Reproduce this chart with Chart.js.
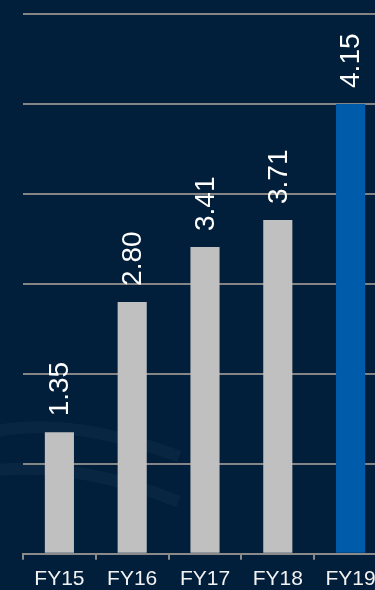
<!DOCTYPE html>
<html>
<head>
<meta charset="utf-8">
<script src="https://cdn.jsdelivr.net/npm/chart.js@4"></script>
<style>
  html, body { margin: 0; padding: 0; background: #011e3a; overflow: hidden; }
  #wrap { width: 390px; height: 599px; }
</style>
</head>
<body>
<div id="wrap"><canvas id="revChart"></canvas></div>
<script>
const years = ['FY15', 'FY16', 'FY17', 'FY18', 'FY19'];
// bar heights as drawn (FY19 bar is drawn taller than its label)
const barHeights = [1.35, 2.80, 3.41, 3.71, 5.0];
const valueLabels = ['1.35', '2.80', '3.41', '3.71', '4.15'];
const barColors = ['#c0c0c0', '#c0c0c0', '#c0c0c0', '#c0c0c0', '#005bab'];

const ctx = document.getElementById('revChart').getContext('2d');

const backdrop = {
    id: 'backdrop',
    beforeDraw(chart) {
        const c = chart.ctx;
        c.save();
        c.strokeStyle = 'rgba(110,150,190,0.07)';
        c.lineWidth = 12;
        c.beginPath();
        c.ellipse(160, 590, 260, 130, 0.45, Math.PI * 1.0, Math.PI * 1.45);
        c.stroke();
        c.beginPath();
        c.ellipse(120, 640, 260, 150, 0.4, Math.PI * 1.0, Math.PI * 1.5);
        c.stroke();
        c.restore();
    }
};

const valueText = {
    id: 'valueText',
    afterDatasetsDraw(chart) {
        const c = chart.ctx;
        const meta = chart.getDatasetMeta(0);
        c.save();
        c.fillStyle = '#ffffff';
        c.font = '28px "Liberation Sans", Arial, sans-serif';
        c.textAlign = 'left';
        c.textBaseline = 'middle';
        meta.data.forEach((bar, i) => {
            c.save();
            c.translate(bar.x, bar.y - 16);
            c.rotate(-Math.PI / 2);
            c.fillText(valueLabels[i], 0, 1);
            c.restore();
        });
        c.restore();
    }
};

const chart = new Chart(ctx, {
    type: 'bar',
    data: {
        labels: years,
        datasets: [{
            data: barHeights,
            backgroundColor: barColors,
            borderWidth: 0,
            categoryPercentage: 1,
            barPercentage: 0.4
        }]
    },
    options: {
        responsive: true,
        maintainAspectRatio: false,
        animation: false,
        layout: { padding: { left: 23, right: 3, top: 14, bottom: 0 } },
        plugins: {
            legend: { display: false },
            tooltip: { enabled: false }
        },
        scales: {
            x: {
                grid: { display: true, drawOnChartArea: false, drawTicks: true, tickLength: 6, color: '#8a8a8a', lineWidth: 2, offset: true },
                border: { display: true, color: '#8a8a8a', width: 2 },
                ticks: { color: '#f2f2f2', font: { size: 21, family: '"Liberation Sans", Arial, sans-serif' }, padding: 7 }
            },
            y: {
                min: 0,
                max: 6,
                ticks: { display: false, stepSize: 1 },
                grid: { color: '#858585', lineWidth: 2, drawTicks: false },
                border: { display: false }
            }
        }
    },
    plugins: [backdrop, valueText]
});
</script>
</body>
</html>
